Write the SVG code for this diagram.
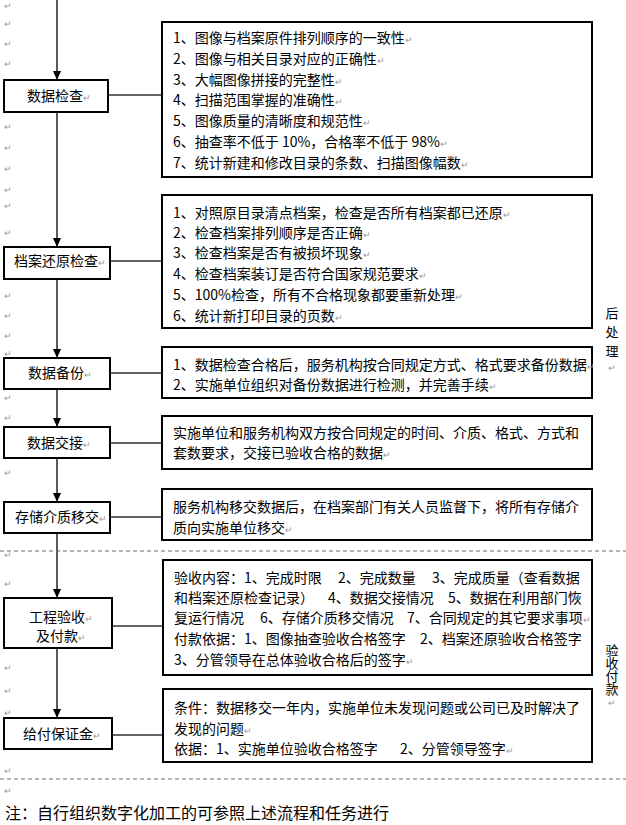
<svg xmlns="http://www.w3.org/2000/svg" width="626" height="825" viewBox="0 0 626 825">
<style>
text{font-family:"Noto Sans CJK SC","Noto Sans",sans-serif;fill:#000}
.t{font-size:14px}
.lab{font-size:14px}
.rm{font-size:9px;fill:#999}
.nb{fill:#fff;stroke:#000;stroke-width:2}
.db{fill:#fff;stroke:#000;stroke-width:2}
.flow{stroke:#333;stroke-width:1.6;fill:none}
.conn{stroke:#333;stroke-width:1.3;fill:none}
.dash{stroke:#666;stroke-width:1;stroke-dasharray:4 3;fill:none}
.side{font-size:13px;writing-mode:vertical-rl}
.note{font-size:16px}
</style>
<defs>
<marker id="ah" markerWidth="10" markerHeight="10" refX="9" refY="4" orient="auto" markerUnits="userSpaceOnUse">
<path d="M0,0 L9,4 L0,8 Z" fill="#000"/>
</marker>
</defs>

<!-- margin paragraph marks -->
<g id="margin-marks" class="rm">
<text class="rm" x="4" y="9">↵</text>
<text class="rm" x="4" y="27">↵</text>
<text class="rm" x="4" y="47">↵</text>
<text class="rm" x="4" y="67">↵</text>
<text class="rm" x="4" y="130">↵</text>
<text class="rm" x="4" y="151">↵</text>
<text class="rm" x="4" y="172">↵</text>
<text class="rm" x="4" y="193">↵</text>
<text class="rm" x="4" y="209">↵</text>
<text class="rm" x="4" y="236">↵</text>
<text class="rm" x="4" y="299">↵</text>
<text class="rm" x="4" y="319">↵</text>
<text class="rm" x="4" y="339">↵</text>
<text class="rm" x="4" y="357">↵</text>
<text class="rm" x="4" y="401">↵</text>
<text class="rm" x="4" y="421">↵</text>
<text class="rm" x="4" y="476">↵</text>
<text class="rm" x="4" y="558">↵</text>
<text class="rm" x="4" y="587">↵</text>
<text class="rm" x="4" y="671">↵</text>
<text class="rm" x="4" y="694">↵</text>
<text class="rm" x="4" y="716">↵</text>
<text class="rm" x="4" y="774">↵</text>
<text class="rm" x="4" y="794">↵</text>
</g>

<!-- connectors -->
<g id="connectors">
<line class="flow" x1="57" y1="0" x2="57" y2="80" marker-end="url(#ah)"/>
<line class="flow" x1="57" y1="112" x2="57" y2="247" marker-end="url(#ah)"/>
<line class="flow" x1="57" y1="279" x2="57" y2="358" marker-end="url(#ah)"/>
<line class="flow" x1="57" y1="389" x2="57" y2="427" marker-end="url(#ah)"/>
<line class="flow" x1="57" y1="458" x2="57" y2="502" marker-end="url(#ah)"/>
<line class="flow" x1="57" y1="533" x2="57" y2="598" marker-end="url(#ah)"/>
<line class="flow" x1="57" y1="648" x2="57" y2="718" marker-end="url(#ah)"/>
<line class="conn" x1="108" y1="95" x2="162" y2="95"/>
<line class="conn" x1="110" y1="261" x2="162" y2="261"/>
<line class="conn" x1="110" y1="373" x2="162" y2="373"/>
<line class="conn" x1="110" y1="443" x2="162" y2="443"/>
<line class="conn" x1="110" y1="517" x2="162" y2="517"/>
<line class="conn" x1="112" y1="626" x2="163" y2="626"/>
<line class="conn" x1="112" y1="735" x2="163" y2="735"/>
</g>

<!-- dashed separators -->
<line class="dash" x1="0" y1="551" x2="626" y2="551"/>
<line class="dash" x1="0" y1="779" x2="626" y2="779"/>

<!-- main nodes -->
<g id="n-sjjc">
<rect class="nb" x="4" y="80" width="104" height="32"/>
<text class="lab" x="27" y="101">数据检查<tspan class="rm">↵</tspan></text>
</g>
<g id="n-dahyjc">
<rect class="nb" x="4" y="247" width="106" height="32"/>
<text class="lab" x="14" y="266">档案还原检查<tspan class="rm">↵</tspan></text>
</g>
<g id="n-sjbf">
<rect class="nb" x="4" y="358" width="106" height="31"/>
<text class="lab" x="28" y="378">数据备份<tspan class="rm">↵</tspan></text>
</g>
<g id="n-sjjj">
<rect class="nb" x="4" y="427" width="106" height="31"/>
<text class="lab" x="27" y="448">数据交接<tspan class="rm">↵</tspan></text>
</g>
<g id="n-ccjzyj">
<rect class="nb" x="4" y="502" width="106" height="31"/>
<text class="lab" x="15" y="522">存储介质移交<tspan class="rm">↵</tspan></text>
</g>
<g id="n-gcys">
<rect class="nb" x="4" y="598" width="108" height="50"/>
<text class="lab" x="29" y="622">工程验收<tspan class="rm">↵</tspan></text>
<text class="lab" x="36" y="641">及付款<tspan class="rm">↵</tspan></text>
</g>
<g id="n-gfbzj">
<rect class="nb" x="4" y="718" width="108" height="31"/>
<text class="lab" x="23" y="739">给付保证金<tspan class="rm">↵</tspan></text>
</g>

<!-- detail boxes -->
<g id="d-sjjc">
<rect class="db" x="162" y="22" width="430" height="155"/>
<text class="t" x="173" y="43">1、图像与档案原件排列顺序的一致性<tspan class="rm">↵</tspan></text>
<text class="t" x="173" y="64">2、图像与相关目录对应的正确性<tspan class="rm">↵</tspan></text>
<text class="t" x="173" y="85">3、大幅图像拼接的完整性<tspan class="rm">↵</tspan></text>
<text class="t" x="173" y="105">4、扫描范围掌握的准确性<tspan class="rm">↵</tspan></text>
<text class="t" x="173" y="126">5、图像质量的清晰度和规范性<tspan class="rm">↵</tspan></text>
<text class="t" x="173" y="147">6、抽查率不低于 10%，合格率不低于 98%<tspan class="rm">↵</tspan></text>
<text class="t" x="173" y="168">7、统计新建和修改目录的条数、扫描图像幅数<tspan class="rm">↵</tspan></text>
</g>
<g id="d-dahyjc">
<rect class="db" x="162" y="195" width="430" height="133"/>
<text class="t" x="173" y="218">1、对照原目录清点档案，检查是否所有档案都已还原<tspan class="rm">↵</tspan></text>
<text class="t" x="173" y="238">2、检查档案排列顺序是否正确<tspan class="rm">↵</tspan></text>
<text class="t" x="173" y="258">3、检查档案是否有被损坏现象<tspan class="rm">↵</tspan></text>
<text class="t" x="173" y="279">4、检查档案装订是否符合国家规范要求<tspan class="rm">↵</tspan></text>
<text class="t" x="173" y="300">5、100%检查，所有不合格现象都要重新处理<tspan class="rm">↵</tspan></text>
<text class="t" x="173" y="321">6、统计新打印目录的页数<tspan class="rm">↵</tspan></text>
</g>
<g id="d-sjbf">
<rect class="db" x="162" y="347" width="430" height="51"/>
<text class="t" x="173" y="370">1、数据检查合格后，服务机构按合同规定方式、格式要求备份数据<tspan class="rm">↵</tspan></text>
<text class="t" x="173" y="390">2、实施单位组织对备份数据进行检测，并完善手续<tspan class="rm">↵</tspan></text>
</g>
<g id="d-sjjj">
<rect class="db" x="162" y="416" width="430" height="53"/>
<text class="t" x="173" y="438">实施单位和服务机构双方按合同规定的时间、介质、格式、方式和</text>
<text class="t" x="173" y="458">套数要求，交接已验收合格的数据<tspan class="rm">↵</tspan></text>
</g>
<g id="d-ccjzyj">
<rect class="db" x="162" y="489" width="430" height="51"/>
<text class="t" x="173" y="512">服务机构移交数据后，在档案部门有关人员监督下，将所有存储介</text>
<text class="t" x="173" y="533">质向实施单位移交<tspan class="rm">↵</tspan></text>
</g>
<g id="d-gcys">
<rect class="db" x="163" y="560" width="429" height="115"/>
<text class="t" y="583"><tspan x="174">验收内容：1、完成时限</tspan><tspan x="338">2、完成数量</tspan><tspan x="432">3、完成质量（查看数据</tspan></text>
<text class="t" y="603"><tspan x="174">和档案还原检查记录）</tspan><tspan x="328">4、数据交接情况</tspan><tspan x="448">5、数据在利用部门恢</tspan></text>
<text class="t" y="623"><tspan x="174">复运行情况</tspan><tspan x="260">6、存储介质移交情况</tspan><tspan x="407">7、合同规定的其它要求事项</tspan><tspan class="rm">↵</tspan></text>
<text class="t" y="644"><tspan x="174">付款依据：1、图像抽查验收合格签字</tspan><tspan x="420">2、档案还原验收合格签字</tspan></text>
<text class="t" x="174" y="665">3、分管领导在总体验收合格后的签字<tspan class="rm">↵</tspan></text>
</g>
<g id="d-gfbzj">
<rect class="db" x="163" y="689" width="429" height="73"/>
<text class="t" x="174" y="713">条件：数据移交一年内，实施单位未发现问题或公司已及时解决了</text>
<text class="t" x="174" y="734">发现的问题<tspan class="rm">↵</tspan></text>
<text class="t" y="754"><tspan x="174">依据：1、实施单位验收合格签字</tspan><tspan x="400">2、分管领导签字</tspan><tspan class="rm">↵</tspan></text>
</g>

<!-- side labels -->
<g id="side-hcl">
<text class="side" x="612" y="307" letter-spacing="6">后处理</text>
<text class="rm" x="612" y="371" text-anchor="middle">↵</text>
</g>
<g id="side-ysfk">
<text class="side" x="612" y="644" style="font-size:13px">验收付款</text>
<text class="rm" x="612" y="706" text-anchor="middle">↵</text>
</g>

<text class="note" x="5" y="819">注：自行组织数字化加工的可参照上述流程和任务进行</text>
</svg>
